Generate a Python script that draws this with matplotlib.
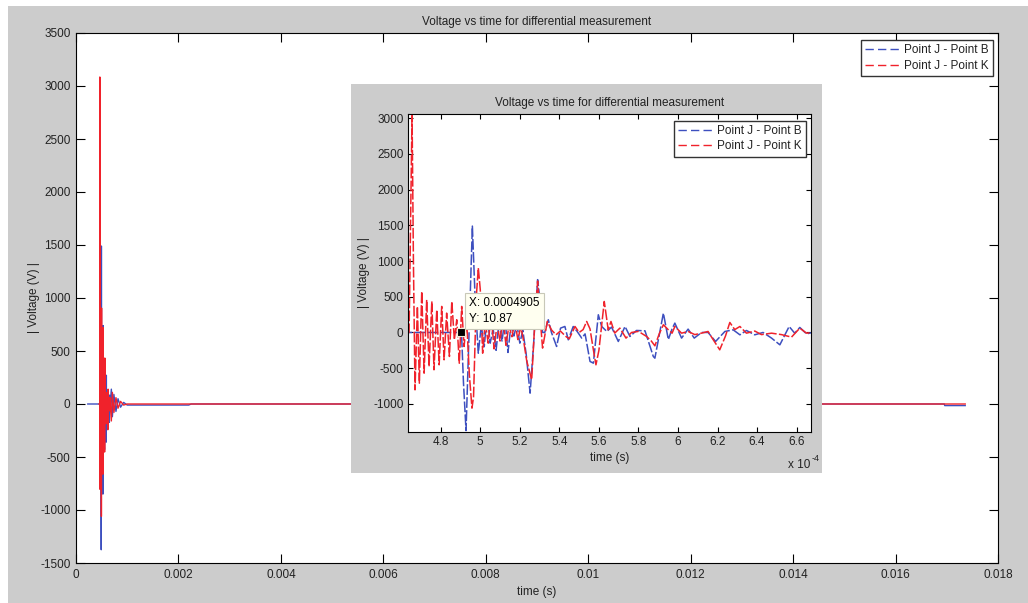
import matplotlib
matplotlib.use("Agg")
import matplotlib.pyplot as plt
import numpy as np
from matplotlib.lines import Line2D
from matplotlib.patches import Rectangle
from matplotlib.ticker import FuncFormatter, MultipleLocator

# time in units of 1e-4 s, voltage in V
t_jb = [2.3, 4.88, 4.905, 4.915, 4.928, 4.94, 4.96, 4.975, 4.99, 5.005, 5.02,
        5.035, 5.05, 5.065, 5.08, 5.095, 5.11, 5.125, 5.14, 5.155, 5.17, 5.185,
        5.20, 5.215, 5.232, 5.252, 5.27, 5.29, 5.302, 5.315, 5.326, 5.344, 5.36,
        5.386, 5.406, 5.428, 5.445, 5.47, 5.49, 5.513, 5.53, 5.555, 5.572, 5.597,
        5.614, 5.64, 5.664, 5.698, 5.732, 5.757, 5.79, 5.833, 5.875, 5.883,
        5.926, 5.951, 5.97, 5.984, 6.018, 6.051, 6.082, 6.119, 6.152, 6.19,
        6.237, 6.279, 6.313, 6.346, 6.388, 6.43, 6.473, 6.515, 6.562, 6.59,
        6.616, 6.65, 6.68, 6.9, 7.1, 7.4, 7.8, 8.2, 8.7, 9.3, 10.0, 22.0, 22.5,
        169.5, 169.6, 173.6]
v_jb = [0, 0, 10.87, -700, -1375, -300, 1490, 400, -290, 100, -200,
        250, -150, 50, -250, 150, -120, 200, -280, 100, -50, 120,
        -150, 30, -300, -850, -150, 740, 458, 0, 0, 178, 0,
        -196, 61, 84, -103, 84, 14, -79, -20, -406, -430, 248,
        84, 14, 75, -126, 84, -56, 28, 23, -336, -360,
        271, -100, 50, 131, -79, 47, -79, 0, 0, -126,
        14, 37, -33, 28, -33, 0, -79, -173, 84, -10,
        70, -20, 0, 140, -120, 90, -70, 50, -30, 15, -10, -10, 0,
        0, -15, -15]

t_jk = [4.50, 4.640, 4.655, 4.662, 4.670, 4.682, 4.692, 4.704, 4.716, 4.729,
        4.741, 4.755, 4.766, 4.780, 4.792, 4.805, 4.817, 4.830, 4.844, 4.856,
        4.869, 4.881, 4.894, 4.906, 4.918, 4.931, 4.945, 4.958, 4.966, 4.98,
        4.99, 5.00, 5.012, 5.025, 5.04, 5.055, 5.07, 5.085, 5.10, 5.115, 5.13,
        5.145, 5.16, 5.175, 5.19, 5.205, 5.22, 5.235, 5.26, 5.275, 5.29, 5.30,
        5.315, 5.339, 5.36, 5.383, 5.405, 5.433, 5.45, 5.479, 5.50, 5.52, 5.538,
        5.555, 5.572, 5.585, 5.60, 5.627, 5.647, 5.661, 5.68, 5.706, 5.737,
        5.765, 5.80, 5.841, 5.865, 5.883, 5.905, 5.926, 5.95, 5.97, 5.984,
        6.018, 6.051, 6.085, 6.118, 6.152, 6.173, 6.211, 6.24, 6.262, 6.287,
        6.313, 6.346, 6.388, 6.422, 6.473, 6.523, 6.574, 6.616, 6.65, 6.68,
        6.9, 7.1, 7.4, 7.8, 8.2, 8.7, 9.3, 10.0, 173.6]
v_jk = [0, 0, 3085, 980, -804, 365, -710, 575, -570, 458,
        -477, 435, -523, 318, -453, 365, -383, 271, -336, 435,
        -103, 178, -430, 365, -196, 178, -600, -1060, -900, 500,
        905, 600, -290, 150, -150, 250, -230, 120, -120, 200, -180,
        100, -60, 150, -100, 80, -130, -400, -662, 100, 720, 300,
        -219, 154, 37, -33, 20, -56, -90, 84, 0, 40, 154,
        50, -243, -453, -250, 434, 37, 154, -9, 61, -79,
        0, 15, -56, -120, -187, -20, 108, 40, -10, 84,
        -10, 14, -30, -10, 14, -80, -243, -50, 140, 40,
        84, -10, 20, -30, -10, -30, -65, 61, -10, 0,
        -160, 110, -80, 60, -40, 25, -10, 0, 0]

labels = ["Point J - Point B", "Point J - Point K"]
title = "Voltage vs time for differential measurement"
tip_t, tip_v = 4.905, 10.87

W, H = 1028, 603
GRAY = "#cccccc"
BLUE = "#3d4fbf"
RED = "#f0222b"
TXT = "#222222"

plt.rcParams.update({
    "font.family": ["Liberation Sans", "DejaVu Sans"],
    "font.size": 8.5,
    "axes.linewidth": 0.8,
    "axes.unicode_minus": False,
    "text.color": TXT,
    "axes.labelcolor": TXT,
    "xtick.color": "black",
    "ytick.color": "black",
    "xtick.labelcolor": TXT,
    "ytick.labelcolor": TXT,
})


def style_axes(ax, length, pad):
    ax.tick_params(direction="in", top=True, right=True, length=length,
                   width=0.8, pad=pad, labelsize=8.5)


def legend_handles():
    return [Line2D([], [], color=c, lw=1, linestyle=(0, (6, 3)))
            for c in (BLUE, RED)]


fig = plt.figure(figsize=(W / 100, H / 100), dpi=100, facecolor="white")
fig.patches.append(Rectangle((8 / W, 0), 1, (H - 6) / H, transform=fig.transFigure,
                             facecolor=GRAY, edgecolor="none", zorder=-10))

# main axes
ax = fig.add_axes([76 / W, 1 - 563 / H, 922 / W, 530 / H])
ax.plot(np.array(t_jb) * 1e-4, v_jb, color=BLUE, lw=1)
ax.plot(np.array(t_jk) * 1e-4, v_jk, color=RED, lw=1)
ax.set_xlim(0, 0.018)
ax.set_ylim(-1500, 3500)
ax.xaxis.set_major_locator(MultipleLocator(0.002))
ax.yaxis.set_major_locator(MultipleLocator(500))
ax.xaxis.set_major_formatter(FuncFormatter(lambda v, p: f"{v:g}"))
style_axes(ax, 6.5, 4)
ax.set_title(title, fontsize=8.5, pad=6)
ax.set_xlabel("time (s)", labelpad=4)
ax.set_ylabel("| Voltage (V) |", labelpad=0)
ax.legend(legend_handles(), labels, loc="upper right",
          bbox_to_anchor=(0.9946, 0.9868), borderaxespad=0, fancybox=False,
          edgecolor="#333333", framealpha=1, handlelength=3, fontsize=8.5,
          borderpad=0.35, labelspacing=0.3, handletextpad=0.3)

# inset panel (screenshot of the zoomed figure)
fig.patches.append(Rectangle((351 / W, 1 - 472.7 / H), (822 - 351) / W,
                             (472.7 - 84) / H, transform=fig.transFigure,
                             facecolor=GRAY, edgecolor="none", zorder=1))
ins = fig.add_axes([407.7 / W, 1 - 431.7 / H, 403 / W, 317.7 / H])
ins.set_zorder(2)
ins.plot(t_jb, v_jb, color=BLUE, lw=1.1, linestyle=(0, (7, 1.5)))
ins.plot(t_jk, v_jk, color=RED, lw=1.1, linestyle=(0, (7, 1.5)))
ins.set_xlim(4.633, 6.671)
ins.set_ylim(-1390, 3060)
ins.xaxis.set_major_locator(MultipleLocator(0.2))
ins.yaxis.set_major_locator(MultipleLocator(500))
ins.xaxis.set_major_formatter(FuncFormatter(lambda v, p: f"{v:g}"))
style_axes(ins, 3.6, 3)
ins.set_title(title, fontsize=8.5, pad=6)
ins.set_xlabel("time (s)", labelpad=3)
ins.set_ylabel("| Voltage (V) |", labelpad=2)
ins.legend(legend_handles(), labels, loc="upper right",
           bbox_to_anchor=(0.9876, 0.9789), borderaxespad=0, fancybox=False,
           edgecolor="#333333", framealpha=1, handlelength=3, fontsize=8.5,
           borderpad=0.35, labelspacing=0.3, handletextpad=0.3)
ins.text(1.0, -0.085, "x 10", transform=ins.transAxes, ha="right", va="top",
         fontsize=8.5)
ins.text(1.003, -0.07, "-4", transform=ins.transAxes, ha="left", va="top",
         fontsize=6.5)

# data tip
ins.plot([tip_t], [tip_v], marker="s", ms=6, color="black", mec="#f4f0d8",
         mew=0.8, zorder=5)
ins.annotate(f"X: {tip_t * 1e-4:.7f}\nY: {tip_v:g}", xy=(tip_t, tip_v),
             xytext=(8, 7), textcoords="offset pixels", ha="left", va="bottom",
             fontsize=8.5, color="black", linespacing=1.4, zorder=6,
             bbox=dict(boxstyle="square,pad=0.35", facecolor="#fffff0",
                       edgecolor="#c8c8b8", lw=0.8))

fig.savefig("out.png", dpi=100, facecolor=fig.get_facecolor())
